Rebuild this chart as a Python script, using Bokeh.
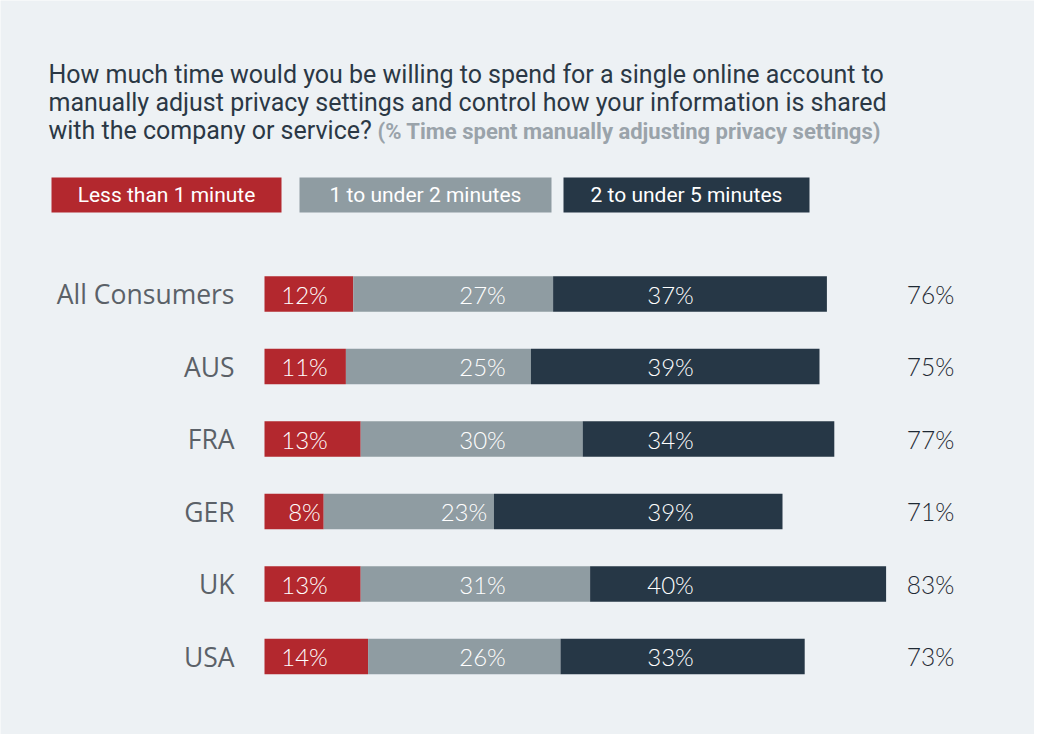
from bokeh.plotting import figure
from bokeh.models import ColumnDataSource, Range1d, Label
from bokeh.core.properties import value
from bokeh.embed import file_html
from bokeh.resources import INLINE

# ---- data ----
categories = ["All Consumers", "AUS", "FRA", "GER", "UK", "USA"]
series_names = ["Less than 1 minute", "1 to under 2 minutes", "2 to under 5 minutes"]
less_1 = [12, 11, 13, 8, 13, 14]
one_to_2 = [27, 25, 30, 23, 31, 26]
two_to_5 = [37, 39, 34, 39, 40, 33]
totals = [76, 75, 77, 71, 83, 73]

colors = ["#b3282e", "#8f9ca2", "#263746"]
BG = "#edf1f4"

W, H = 1034, 734
PX_PER_PCT = 7.4
X0 = 264.0      # pixel where 0% sits
Y0 = 293.5      # pixel of first row centre
ROW_PX = 72.5

def X(px):
    return (px - X0) / PX_PER_PCT

def Y(py):
    return (py - Y0) / ROW_PX

p = figure(width=W, height=H, output_backend="svg", toolbar_location=None,
           x_range=Range1d(X(0), X(W)), y_range=Range1d(Y(H), Y(0)),
           min_border=0, outline_line_color=None,
           background_fill_color=BG, border_fill_color=BG)
p.axis.visible = False
p.grid.visible = False

rows = list(range(len(categories)))
left1 = [0] * len(rows)
right1 = [a for a in less_1]
right2 = [a + b for a, b in zip(less_1, one_to_2)]
right3 = [a + b + c for a, b, c in zip(less_1, one_to_2, two_to_5)]

bar_h = 35.5 / ROW_PX
for lefts, rights, c in [(left1, right1, colors[0]), (right1, right2, colors[1]), (right2, right3, colors[2])]:
    src = ColumnDataSource(dict(y=rows, left=lefts, right=rights))
    p.hbar(y="y", left="left", right="right", height=bar_h, source=src,
           fill_color=c, line_color=None)

LIGHT = value("Lato Light, Lato")

# segment labels in columns (kept inside their segment)
half_label = 30 / PX_PER_PCT
red_x = [X(304)] * len(rows)
gray_x = [min(X(482), r - half_label) for r in right2]
dark_x = [X(670)] * len(rows)
for vals, xs in zip([less_1, one_to_2, two_to_5], [red_x, gray_x, dark_x]):
    src = ColumnDataSource(dict(x=xs, y=rows, t=[f"{v}%" for v in vals]))
    p.text(x="x", y="y", text="t", source=src, text_color="white",
           text_font=LIGHT, text_font_size="24px",
           text_align="center", text_baseline="middle")

# totals
src = ColumnDataSource(dict(x=[X(930)] * len(rows), y=rows, t=[f"{v}%" for v in totals]))
p.text(x="x", y="y", text="t", source=src, text_color="#1f2933",
       text_font=LIGHT, text_font_size="24.5px",
       text_align="center", text_baseline="middle")

# category labels
src = ColumnDataSource(dict(x=[X(234)] * len(rows), y=rows, t=categories))
p.text(x="x", y="y", text="t", source=src, text_color="#5b6168",
       text_font=value("Open Sans"), text_font_size="26.5px",
       text_align="right", text_baseline="middle")

# title
title_lines = [
    "How much time would you be willing to spend for a single online account to",
    "manually adjust privacy settings and control how your information is shared",
    "with the company or service?",
]
title_y = [74, 102, 130]
for t, ty in zip(title_lines, title_y):
    p.add_layout(Label(x=X(48), y=Y(ty), text=t, text_font="Roboto",
                       text_font_size="25px", text_color="#2b3845",
                       text_baseline="middle", text_align="left"))
p.add_layout(Label(x=X(377), y=Y(131), text="(% Time spent manually adjusting privacy settings)",
                   text_font="Roboto", text_font_size="22px", text_font_style="bold",
                   text_color="#9aa3aa", text_baseline="middle", text_align="left"))

# legend boxes
boxes = [(51, 281), (299, 551), (563, 809)]
for (l, r), name, c in zip(boxes, series_names, colors):
    src = ColumnDataSource(dict(y=[Y(194.5)], left=[X(l)], right=[X(r)]))
    p.hbar(y="y", left="left", right="right", height=35 / ROW_PX, source=src,
           fill_color=c, line_color=None)
    p.add_layout(Label(x=X((l + r) / 2), y=Y(194.5), text=name, text_font="Roboto",
                       text_font_size="21px", text_color="white",
                       text_baseline="middle", text_align="center"))

open("out.html", "w").write(file_html(p, INLINE))
